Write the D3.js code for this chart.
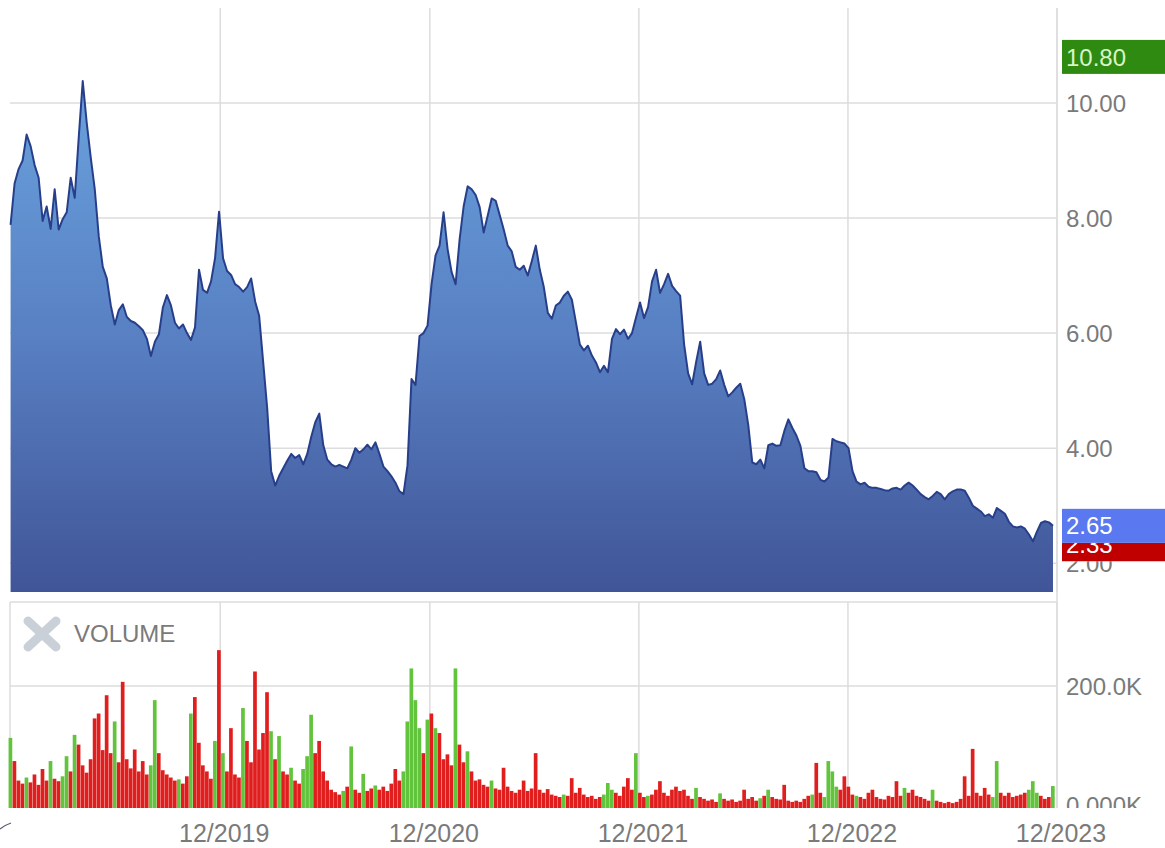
<!DOCTYPE html>
<html>
<head>
<meta charset="utf-8">
<script src="https://cdn.jsdelivr.net/npm/d3@7"></script>
<style>
  body { margin: 0; background: #fff; }
  svg { display: block; }
  text { font-family: "Liberation Sans", Arial, sans-serif; }
</style>
</head>
<body>
<svg id="chart" width="1165" height="848"></svg>
<script>
// Weekly closing prices, first week ending 2018-11-30
const firstWeek = "2018-11-30";
const closes = [
  7.88, 8.6, 8.85, 9.0, 9.45, 9.25, 8.92, 8.7, 7.95, 8.2,
  7.81, 8.5, 7.8, 7.98, 8.1, 8.7, 8.35, 9.4, 10.38, 9.65,
  9.05, 8.5, 7.68, 7.15, 6.95, 6.48, 6.15, 6.4, 6.5, 6.28,
  6.21, 6.18, 6.12, 6.05, 5.9, 5.6, 5.85, 5.98, 6.45, 6.66,
  6.48, 6.18, 6.08, 6.15, 6.0, 5.88, 6.1, 7.1, 6.75, 6.7,
  6.9, 7.3, 8.11, 7.3, 7.08, 7.01, 6.85, 6.8, 6.72, 6.8,
  6.95, 6.55, 6.3, 5.5, 4.7, 3.6, 3.35, 3.52, 3.65, 3.78,
  3.9, 3.83, 3.88, 3.72, 3.9, 4.2, 4.45, 4.6, 4.05, 3.8,
  3.72, 3.68, 3.71, 3.68, 3.65, 3.8, 4.0, 3.92, 3.98, 4.06,
  3.98, 4.1, 3.9, 3.68, 3.6, 3.51, 3.4, 3.25, 3.2, 3.7,
  5.2, 5.1, 5.95, 6.0, 6.13, 6.85, 7.35, 7.52, 8.1, 7.46,
  7.06, 6.85, 7.63, 8.2, 8.55, 8.5, 8.4, 8.19, 7.75, 8.04,
  8.34, 8.3, 8.05, 7.8, 7.52, 7.42, 7.15, 7.1, 7.17, 7.0,
  7.25, 7.52, 7.1, 6.8, 6.35, 6.25, 6.48, 6.53, 6.65, 6.72,
  6.58, 6.19, 5.8, 5.7, 5.78, 5.61, 5.49, 5.32, 5.43, 5.32,
  5.9, 6.07, 5.98, 6.06, 5.9, 6.0, 6.27, 6.53, 6.26, 6.45,
  6.9, 7.1, 6.7, 6.85, 7.03, 6.82, 6.73, 6.65, 5.8, 5.3,
  5.11, 5.5, 5.85, 5.3, 5.1, 5.12, 5.2, 5.35, 5.1, 4.9,
  4.97, 5.05, 5.12, 4.85, 4.4, 3.75, 3.72, 3.8, 3.65, 4.05,
  4.08, 4.04, 4.05, 4.3, 4.5, 4.35, 4.22, 4.04, 3.65, 3.6,
  3.6, 3.58, 3.45, 3.42, 3.49, 4.16, 4.12, 4.1, 4.08, 4.0,
  3.6, 3.42, 3.37, 3.4, 3.33, 3.31, 3.31, 3.29, 3.27, 3.26,
  3.3, 3.31, 3.28, 3.35, 3.4, 3.35, 3.28, 3.2, 3.15, 3.11,
  3.17, 3.24, 3.2, 3.11, 3.2, 3.25, 3.28, 3.28, 3.26, 3.14,
  3.0, 2.95, 2.9, 2.82, 2.85, 2.79, 2.96, 2.91, 2.86, 2.72,
  2.64, 2.62, 2.64, 2.6, 2.5, 2.38, 2.55, 2.7, 2.73, 2.71, 2.65
];

// Weekly volume, thousands of shares
const volumesK = [
  115, 77, 45, 40, 50, 42, 55, 38, 64, 45,
  77, 48, 44, 52, 85, 60, 120, 104, 70, 58,
  80, 147, 155, 95, 185, 90, 142, 75, 207, 80,
  65, 96, 60, 77, 55, 70, 177, 90, 62, 55,
  50, 45, 47, 40, 52, 155, 182, 107, 70, 60,
  48, 110, 259, 90, 60, 131, 55, 50, 164, 110,
  75, 224, 96, 123, 190, 126, 80, 118, 60, 55,
  66, 45, 40, 64, 85, 153, 90, 110, 60, 45,
  30, 26, 22, 28, 35, 101, 30, 25, 56, 28,
  32, 37, 30, 35, 28, 40, 64, 45, 60, 142,
  229, 177, 131, 90, 145, 155, 131, 123, 80, 88,
  70, 229, 104, 75, 93, 60, 45, 47, 38, 35,
  45, 32, 30, 66, 35, 28, 25, 30, 45, 28,
  32, 90, 30, 25, 31, 22, 20, 18, 22, 20,
  49, 25, 33, 22, 18, 20, 15, 18, 22, 41,
  30, 25, 20, 35, 49, 30, 90, 25, 18, 20,
  22, 30, 44, 25, 20, 30, 35, 28, 30, 20,
  15, 33, 18, 15, 12, 14, 10, 24, 15, 12,
  14, 10, 12, 30, 15, 18, 12, 16, 20, 30,
  18, 15, 14, 38, 12, 10, 12, 10, 15, 20,
  22, 74, 25, 18, 77, 60, 35, 30, 52, 35,
  22, 20, 18, 15, 25, 30, 18, 15, 14, 20,
  18, 44, 20, 33, 25, 30, 20, 18, 15, 12,
  30, 12, 10, 8, 10, 8, 10, 15, 52, 20,
  97, 25, 20, 33, 22, 18, 77, 25, 20, 25,
  18, 20, 22, 25, 30, 44, 25, 20, 15, 18, 36
];

// Up (g) / down (r) session for each volume bar
const volumeSides = (
  "g r r r g r r r r r  g r r g g r g r r r  r r r r r r g r r r  r r r r r g g r r r " +
  "r r g r r g r r r r  r g r g r r r r g r  r r r r r g r g r r  g r r g g g r r r r " +
  "r r r g r g r r g r  r g r r r r r r g g  g g g r g r g r r r  r g r r g r r r r r " +
  "g r r r r r r r r r  r r r r r r r r g r  r r r r r r r r g g  g r r r r r g r r g " +
  "r r r r r r r r r r  r g r r r r r g r r  r r r r r r r g r g  r r r r r r r r r r " +
  "g r r g g g g r r r  r g r r r r r r r r  r r r g r r r r r r  g r r r r r r r r r " +
  "r r r r r g g r r r  r r r r g g g r r r g"
).trim().split(/\s+/);

const priceTicks = [2, 4, 6, 8, 10];
const volumeTicks = [0, 200000];
const yearTicks = ["2019-12-01", "2020-12-01", "2021-12-01", "2022-12-01", "2023-12-01"];
const yearTickLabels = ["12/2019", "12/2020", "12/2021", "12/2022", "12/2023"];
const lastClose = 2.65;
const rangeHigh = 10.80;
const rangeLow = 2.33;

const parse = d3.timeParse("%Y-%m-%d");
const start = parse(firstWeek);
const weeks = closes.map((c, i) => ({
  date: d3.timeDay.offset(start, 7 * i),
  close: c,
  volume: volumesK[i] * 1000,
  up: volumeSides[i] === "g"
}));

const svg = d3.select("#chart");
const left = 10, right = 1057;
const priceTop = 8, priceBottom = 592;
const volTop = 602, volBottom = 808;

const x = d3.scaleTime()
  .domain([parse("2018-11-29"), parse("2023-12-01")])
  .range([left, right]);
const y = d3.scaleLinear().domain([1.5, 11.65]).range([priceBottom, priceTop]);
const yv = d3.scaleLinear().domain([0, 338000]).range([volBottom, volTop]);

const grid = "#dddddd";
const labelColor = "#7a7a7a";
const markerH = 34;

const defs = svg.append("defs");
const grad = defs.append("linearGradient")
  .attr("id", "priceFill").attr("gradientUnits", "userSpaceOnUse")
  .attr("x1", 0).attr("x2", 0).attr("y1", 80).attr("y2", priceBottom);
grad.append("stop").attr("offset", 0).attr("stop-color", "#6aa2dd");
grad.append("stop").attr("offset", 0.5).attr("stop-color", "#5880c3");
grad.append("stop").attr("offset", 1).attr("stop-color", "#405597");

// Volume labels are cut at the panel's bottom edge
defs.append("clipPath").attr("id", "volLabelClip")
  .append("rect").attr("x", right).attr("y", volTop).attr("width", 200).attr("height", volBottom - volTop);
// Stacked price markers: each lower layer shows only below the one drawn over it
defs.append("clipPath").attr("id", "belowLow")
  .append("rect").attr("x", right).attr("y", y(rangeLow) + markerH / 2).attr("width", 200).attr("height", 60);
defs.append("clipPath").attr("id", "belowLast")
  .append("rect").attr("x", right).attr("y", y(lastClose) + markerH / 2).attr("width", 200).attr("height", 60);

// Grid lines: price panel
svg.append("g").selectAll("line").data(priceTicks).join("line")
  .attr("x1", left).attr("x2", right)
  .attr("y1", d => y(d)).attr("y2", d => y(d))
  .attr("stroke", grid).attr("stroke-width", 1.5);
svg.append("g").selectAll("line").data(yearTicks).join("line")
  .attr("x1", d => x(parse(d))).attr("x2", d => x(parse(d)))
  .attr("y1", priceTop).attr("y2", priceBottom)
  .attr("stroke", grid).attr("stroke-width", 1.5);

// Grid lines and frame: volume panel
svg.append("line").attr("x1", left).attr("x2", right).attr("y1", volTop).attr("y2", volTop)
  .attr("stroke", grid).attr("stroke-width", 1.5);
svg.append("line").attr("x1", left).attr("x2", left).attr("y1", volTop).attr("y2", volBottom)
  .attr("stroke", grid).attr("stroke-width", 1.5);
svg.append("g").selectAll("line").data(volumeTicks.filter(d => d > 0)).join("line")
  .attr("x1", left).attr("x2", right)
  .attr("y1", d => yv(d)).attr("y2", d => yv(d))
  .attr("stroke", grid).attr("stroke-width", 1.5);
svg.append("g").selectAll("line").data(yearTicks).join("line")
  .attr("x1", d => x(parse(d))).attr("x2", d => x(parse(d)))
  .attr("y1", volTop).attr("y2", volBottom)
  .attr("stroke", grid).attr("stroke-width", 1.5);

// Price area and line
const area = d3.area().x(d => x(d.date)).y0(priceBottom).y1(d => y(d.close));
const line = d3.line().x(d => x(d.date)).y(d => y(d.close));
svg.append("path").datum(weeks).attr("d", area).attr("fill", "url(#priceFill)");
svg.append("path").datum(weeks).attr("d", line)
  .attr("fill", "none").attr("stroke", "#273f8a").attr("stroke-width", 2)
  .attr("stroke-linejoin", "round");

// Volume bars
const step = x(d3.timeDay.offset(start, 7)) - x(start);
svg.append("g").selectAll("rect").data(weeks).join("rect")
  .attr("x", d => x(d.date) - step / 2)
  .attr("width", step * 0.92)
  .attr("y", d => yv(d.volume))
  .attr("height", d => volBottom - yv(d.volume))
  .attr("fill", d => d.up ? "#62c43c" : "#e01e1e");

// Right-hand border of the plotting area
svg.append("line").attr("x1", right).attr("x2", right).attr("y1", priceTop).attr("y2", volBottom)
  .attr("stroke", grid).attr("stroke-width", 1.5);

// Price axis labels (the 2.00 label sits under the low marker)
const fmtPrice = d3.format(".2f");
svg.append("g").selectAll("text").data(priceTicks).join("text")
  .attr("clip-path", d => d === 2 ? "url(#belowLow)" : null)
  .attr("x", 1066).attr("y", d => y(d)).attr("dy", "0.36em")
  .attr("font-size", 24).attr("fill", labelColor)
  .text(d => fmtPrice(d));

// Range low, last close and range high markers
function marker(value, fill, textFill, clip) {
  const cy = y(value);
  const g = svg.append("g").attr("clip-path", clip ? `url(#${clip})` : null);
  g.append("rect").attr("x", 1062).attr("y", cy - markerH / 2).attr("width", 103).attr("height", markerH).attr("fill", fill);
  g.append("text").attr("x", 1066).attr("y", cy).attr("dy", "0.36em")
    .attr("font-size", 24).attr("fill", textFill).text(fmtPrice(value));
}
marker(rangeLow, "#c00000", "#ffffff", "belowLast");
marker(lastClose, "#5a78f0", "#ffffff");
marker(rangeHigh, "#2e8a10", "#d9f5c6");

// Volume axis labels
const fmtVol = v => (v / 1000).toPrecision(4) + "K";
svg.append("g").attr("clip-path", "url(#volLabelClip)")
  .selectAll("text").data(volumeTicks).join("text")
  .attr("x", 1066).attr("y", d => yv(d) - (d === 0 ? 3 : 0)).attr("dy", "0.36em")
  .attr("font-size", 24).attr("fill", labelColor)
  .text(fmtVol);

// Volume legend
const lg = svg.append("g");
lg.append("path").attr("d", "M28,621L56,647M56,621L28,647")
  .attr("stroke", "#c9d0d8").attr("stroke-width", 9).attr("stroke-linecap", "round");
lg.append("text").attr("x", 74).attr("y", 633).attr("dy", "0.36em")
  .attr("font-size", 24).attr("fill", labelColor).text("VOLUME");

// Time axis labels
svg.append("g").selectAll("text").data(yearTicks).join("text")
  .attr("x", d => x(parse(d)) + 4).attr("y", 833).attr("dy", "0.36em")
  .attr("text-anchor", "middle").attr("font-size", 25).attr("fill", labelColor)
  .text((d, i) => yearTickLabels[i]);

// Small stroke at the lower left corner
svg.append("path").attr("d", "M0,829Q5,825 11,823")
  .attr("fill", "none").attr("stroke", "#5a6070").attr("stroke-width", 1.2);
</script>
</body>
</html>
